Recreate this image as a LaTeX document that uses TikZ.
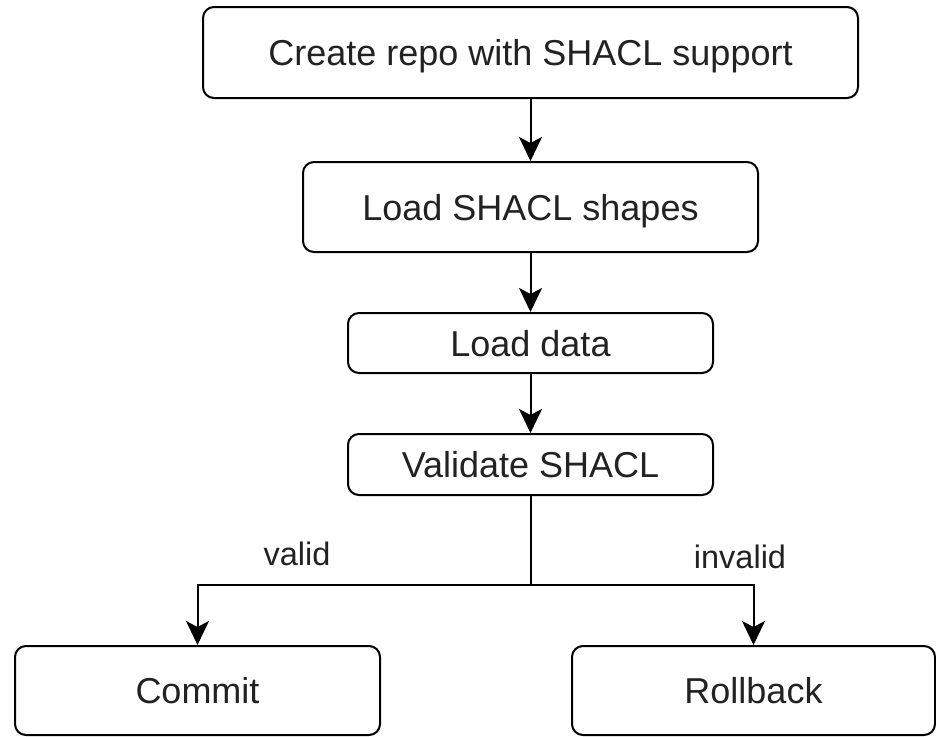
\documentclass[tikz,border=0pt]{standalone}
\usepackage{fontspec}
\setmainfont{Liberation Sans}
\usetikzlibrary{arrows.meta}
\definecolor{txt}{HTML}{222222}
\begin{document}
\begin{tikzpicture}[x=1pt,y=-1pt,
  box/.style={draw=black,line width=2pt,rounded corners=11pt,fill=white,
    text=txt,font=\fontsize{36}{40}\selectfont,inner sep=0pt,align=center,
    text height=26pt,text depth=0pt},
  arr/.style={draw=black,line width=2pt,-{Stealth[width=23pt,length=24pt,inset=6pt]}},
  conn/.style={draw=black,line width=2pt},
  lbl/.style={text=txt,font=\fontsize{32.5}{36}\selectfont,inner sep=0pt,
    text height=23pt,text depth=0pt}]
\useasboundingbox (0,0) rectangle (936,736);
\node[box,minimum width=655pt,minimum height=91pt] (b1) at (530.5,52.5) {Create repo with SHACL support};
\node[box,minimum width=455pt,minimum height=90pt] (b2) at (530.5,207) {Load SHACL shapes};
\node[box,minimum width=365pt,minimum height=60pt] (b3) at (530.5,343) {Load data};
\node[box,minimum width=365pt,minimum height=61pt] (b4) at (530.5,464.5) {Validate SHACL};
\node[box,minimum width=365pt,minimum height=89pt] (b5) at (197.5,690.5) {Commit};
\node[box,minimum width=363pt,minimum height=89pt] (b6) at (753.5,690.5) {Rollback};
\coordinate (split) at (530.5,585);
\draw[arr] (b1.south) -- (b2.north);
\draw[arr] (b2.south) -- (b3.north);
\draw[arr] (b3.south) -- (b4.north);
\draw[conn] (b4.south) -- (split);
\draw[arr] (split) -| (b5.north);
\draw[arr] (split) -| (b6.north);
\node[lbl] (lv) at (297,554) {valid};
\node[lbl] (li) at (740,557) {invalid};
\end{tikzpicture}
\end{document}
